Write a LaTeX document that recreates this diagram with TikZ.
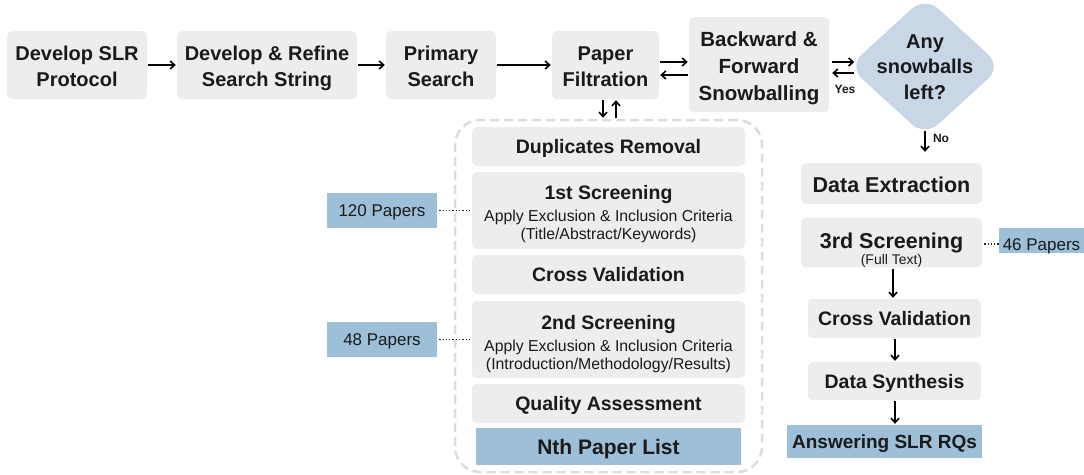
\documentclass[tikz,border=0pt]{standalone}
\usepackage{fontspec}
\setmainfont{Liberation Sans}
\usetikzlibrary{arrows.meta,shapes.geometric}
\definecolor{boxgrey}{HTML}{EDEDED}
\definecolor{paperblue}{HTML}{9DBFD8}
\definecolor{diamondblue}{HTML}{C8D6E5}
\definecolor{dashgrey}{HTML}{DCDCDC}
\definecolor{ink}{HTML}{1A1A1A}
\newcommand{\lift}[1]{\rule{0pt}{#1pt}}
\begin{document}
\begin{tikzpicture}[x=1pt,y=-1pt,
 wh/.style 2 args={minimum width=#1pt, minimum height=#2pt},
 gbox/.style={fill=boxgrey, rounded corners=5pt, inner sep=0pt, align=center, text=ink},
 bbox/.style={fill=paperblue, inner sep=0pt, align=center, text=ink},
 one/.style={text depth=0pt, text height=#1pt},
 topfont/.style={font=\fontsize{20}{26}\selectfont\bfseries},
 midfont/.style={font=\fontsize{19.5}{20}\selectfont\bfseries},
 arr/.style={draw=black, line width=1.6pt, shorten <=1pt, shorten >=1pt, -{Straight Barb[length=4.5pt,width=8pt]}},
 dotln/.style={draw=black!85, line width=1.3pt, dash pattern=on 1.3pt off 2pt, shorten <=2pt}]
\useasboundingbox (0,0) rectangle (1084,474);

% top row
\node[gbox,topfont,wh={140}{68}] (p1) at (77,65) {\lift{16.6}Develop SLR\\Protocol};
\node[gbox,topfont,wh={180}{68}] (p2) at (267,65) {\lift{20.8}Develop \& Refine\\Search String};
\node[gbox,topfont,wh={110}{68}] (p3) at (441,65) {\lift{16.6}Primary\\Search};
\node[gbox,topfont,wh={107}{68}] (pf) at (605.5,65) {\lift{16.6}Paper\\Filtration};
\node[gbox,wh={140}{95},font=\fontsize{20.5}{26.7}\selectfont\bfseries] (bfs) at (759,64.5) {\lift{22.7}Backward \&\\Forward\\Snowballing};
\node[diamond, fill=diamondblue, rounded corners=18pt, minimum width=153pt, minimum height=140pt, inner sep=0pt] (q) at (925,66.5) {};
\node[align=center, text=ink, font=\fontsize{20}{25.5}\selectfont\bfseries] (qt) at (925,67) {Any\\snowballs\\left?};

\draw[arr] (p1) -- (p2);
\draw[arr] (p2) -- (p3);
\draw[arr] (p3) -- (pf);
\draw[arr] (pf.east |- 0,62) -- (bfs.west |- 0,62);
\draw[arr] (bfs.west |- 0,75) -- (pf.east |- 0,75);
\draw[arr] ([xshift=2pt]bfs.east |- 0,62) -- ([xshift=7pt]q.west |- 0,62);
\draw[arr] ([xshift=7pt]q.west |- 0,73) -- ([xshift=2pt]bfs.east |- 0,73);
\node[font=\fontsize{12}{12}\selectfont\bfseries, text=ink] (yes) at (845,89) {Yes};

% container
\node[draw=dashgrey, line width=2.5pt, dash pattern=on 9pt off 5pt, rounded corners=25pt, wh={307}{352}, inner sep=0pt] (cont) at (608.5,296) {};
\draw[arr] (pf.south -| 603,0) -- (cont.north -| 603,0);
\draw[arr] (cont.north -| 616,0) -- (pf.south -| 616,0);

\node[gbox,midfont,one=14,wh={273}{39}] (dr) at (608.5,146.5) {Duplicates Removal};
\node[gbox,wh={273}{77},font=\fontsize{15.8}{18.3}\selectfont] (s1) at (608.5,210.5) {{\fontsize{19.5}{19}\selectfont\bfseries\lift{20.6}1st Screening}\\[3.7pt]Apply Exclusion \& Inclusion Criteria\\(Title/Abstract/Keywords)};
\node[gbox,midfont,one=14,wh={273}{39}] (cv1) at (608.5,274.5) {Cross Validation};
\node[gbox,wh={273}{77},font=\fontsize{15.8}{18.3}\selectfont] (s2) at (608.5,339.5) {{\fontsize{19.5}{19}\selectfont\bfseries\lift{22.6}2nd Screening}\\[3.7pt]Apply Exclusion \& Inclusion Criteria\\(Introduction/Methodology/Results)};
\node[gbox,midfont,one=14,wh={273}{39}] (qa) at (608.5,403.5) {Quality Assessment};
\node[bbox,one=15,wh={265}{37},font=\fontsize{21}{21}\selectfont\bfseries] (nth) at (608.5,446.5) {Nth Paper List};

\node[bbox,one=12.2,wh={110}{35},font=\fontsize{17}{17}\selectfont] (p120) at (382,210.5) {120 Papers};
\node[bbox,one=12.2,wh={110}{35},font=\fontsize{17}{17}\selectfont] (p48) at (382,339.5) {48 Papers};
\draw[dotln] (p120) -- (s1);
\draw[dotln] (p48) -- (s2);

% right column
\node[gbox,one=17.4,wh={181}{41},font=\fontsize{21.5}{20}\selectfont\bfseries] (de) at (891.5,183.5) {Data Extraction};
\draw[arr] ([yshift=7pt]q.south) -- ([yshift=10pt]de.north -| q.south);
\node[font=\fontsize{12}{12}\selectfont\bfseries, text=ink] (no) at (941,138) {No};
\node[gbox,wh={181}{49},font=\fontsize{14}{16}\selectfont] (s3) at (891.5,242.5) {{\fontsize{21.5}{21}\selectfont\bfseries\lift{31}3rd Screening}\\(Full Text)};
\node[bbox,one=19.2,wh={85}{25},font=\fontsize{17}{17}\selectfont] (p46) at (1041.5,240.5) {46 Papers};
\draw[dotln] (s3.east |- 0,244) -- (p46.west |- 0,244);
\node[gbox,midfont,one=14,wh={173}{39}] (cv2) at (894.5,318.5) {Cross Validation};
\node[gbox,midfont,one=14,wh={173}{38}] (ds) at (894.5,381) {Data Synthesis};
\node[bbox,one=13.6,wh={195}{33},font=\fontsize{19}{19}\selectfont\bfseries] (ans) at (884.5,441.5) {Answering SLR RQs};
\draw[arr] (s3.south -| 893,0) -- (cv2.north -| 893,0);
\draw[arr] (cv2.south -| 895,0) -- (ds.north -| 895,0);
\draw[arr] (ds.south -| 895,0) -- (ans.north -| 895,0);
\end{tikzpicture}
\end{document}
